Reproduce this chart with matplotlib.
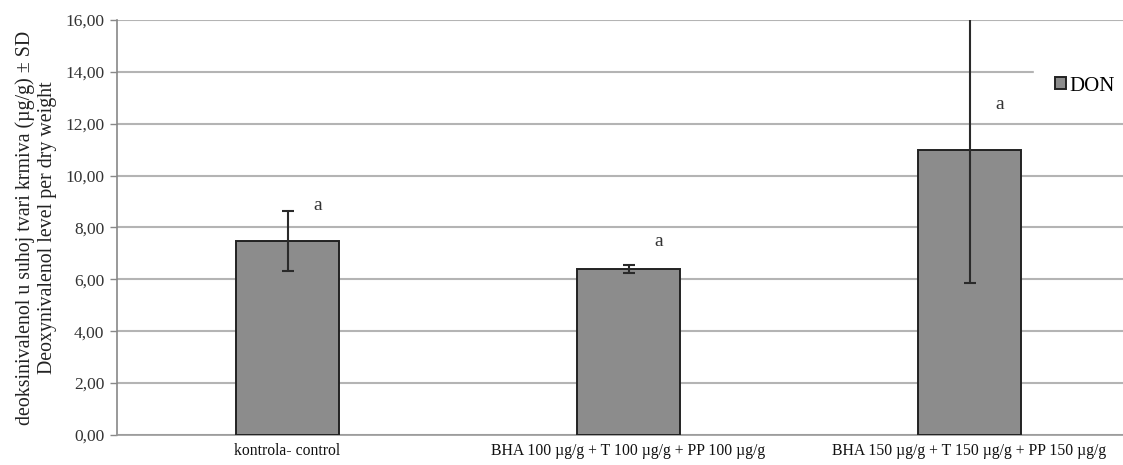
import numpy as np
import matplotlib as mpl
mpl.use("Agg")
import matplotlib.pyplot as plt

mpl.rcParams["font.family"] = ["Liberation Serif", "DejaVu Serif"]

categories = [
    "kontrola- control",
    "BHA 100 µg/g + T 100 µg/g + PP 100 µg/g",
    "BHA 150 µg/g + T 150 µg/g + PP 150 µg/g",
]
don_mean = [7.48, 6.40, 10.99]
don_sd = [1.14, 0.15, 5.13]
letters = ["a", "a", "a"]
letter_y = [8.85, 7.45, 12.75]
yticks = np.arange(0, 17, 2)

fig = plt.figure(figsize=(11.23, 4.65), dpi=100)
ax = fig.add_axes([117 / 1123, 30 / 465, 1023 / 1123, 415 / 465])

x = np.arange(len(categories))
ax.bar(x, don_mean, width=0.30, color="#8c8c8c", edgecolor="#222222",
       linewidth=1.4, label="DON", zorder=3)
ax.errorbar(x, don_mean, yerr=don_sd, fmt="none", ecolor="#2a2a2a",
            elinewidth=1.5, capsize=4, capthick=1.5, zorder=4)

for xi, yl, t in zip(x, letter_y, letters):
    ax.text(xi + 0.088, yl, t, ha="center", va="center", fontsize=14,
            color="#333333")

ax.set_xlim(-0.5, 2.5)
ax.set_ylim(0, 16)
ax.set_yticks(yticks)
ax.set_yticklabels([f"{v:.2f}".replace(".", ",") for v in yticks],
                   fontsize=12.5, color="#333333")
ax.set_xticks(x)
ax.set_xticklabels(categories, fontsize=11.3, color="#111111")
ax.tick_params(axis="x", length=0, pad=6)
ax.tick_params(axis="y", length=5, width=1, color="#888888", pad=4)

ax.yaxis.grid(True, color="#b4b4b4", linewidth=1.5, zorder=0)
ax.set_axisbelow(True)
for s in ["top", "right"]:
    ax.spines[s].set_visible(False)
ax.spines["left"].set_color("#888888")
ax.spines["left"].set_linewidth(1.2)
ax.spines["bottom"].set_color("#999999")
ax.spines["bottom"].set_linewidth(1.2)

ax.set_ylabel("deoksinivalenol u suhoj tvari krmiva (µg/g) ± SD\n"
              "Deoxynivalenol level per dry weight",
              fontsize=14.3, color="#222222", labelpad=6, linespacing=1.2)

leg = ax.legend(loc="center left", bbox_to_anchor=(1034 / 1123, 0.815),
                bbox_transform=fig.transFigure, frameon=True, fontsize=15,
                fancybox=False, handlelength=0.55, handleheight=0.55,
                handletextpad=0.15, borderpad=1.0, borderaxespad=0)
leg.get_frame().set_facecolor("white")
leg.get_frame().set_edgecolor("white")
leg.get_frame().set_alpha(1)

fig.savefig("out.png", dpi=100)
